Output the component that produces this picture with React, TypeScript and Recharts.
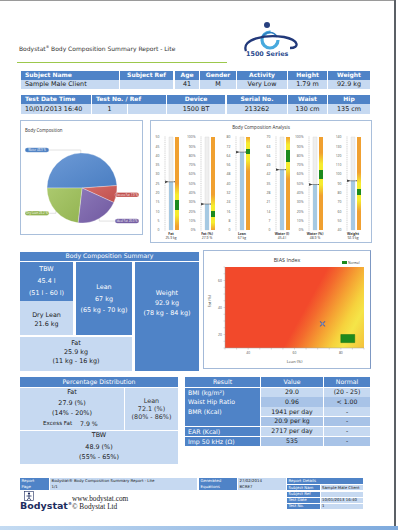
import React from 'react';
import {
  PieChart, Pie, Cell, BarChart, Bar, XAxis, YAxis, ScatterChart, Scatter, ReferenceArea,
} from 'recharts';

// ---- header tables ----
const subjectHeaders = ['Subject Name', 'Subject Ref', 'Age', 'Gender', 'Activity', 'Height', 'Weight'];
const subjectValues = ['Sample Male Client', '', '41', 'M', 'Very Low', '1.79 m', '92.9 kg'];
const testHeaders = ['Test Date Time', 'Test No. / Ref', 'Device', 'Serial No.', 'Waist', 'Hip'];
const testValues = ['10/01/2013 16:40', '1', '', '1500 BT', '213262', '130 cm', '135 cm'];

// ---- pie ----
const pieNames = ['Water', 'Excess Fat', 'Ideal Fat', 'Dry Lean'];
const pieValues = [48.9, 7.9, 20.0, 23.2];

// ---- gauges ----
const gaugeNames = ['Fat', 'Fat  (%)', 'Lean', 'Water  (l)', 'Water  (%)', 'Weight'];
const gaugeValues = [25.9, 27.9, 67, 45.4, 48.9, 92.9];
const gaugeUnits = ['kg', '%', 'kg', 'l', '%', 'kg'];
const gaugeMin = [0, 0, 0, 0, 0, 40];
const gaugeMax = [50, 100, 80, 70, 100, 140];
const gaugeStep = [5, 10, 8, 7, 10, 10];
const gaugeNormalLow = [11, 14, 65, 51, 55, 78];
const gaugeNormalHigh = [16, 20, 70, 60, 65, 84];
const gaugePercent = [false, true, false, false, true, false];

// ---- BIAS index ----
const biasLean = [72.1];
const biasFat = [27.9];
const normalLean = [80, 86];
const normalFat = [14, 20];
const biasXTicks = [30, 35, 40, 45, 50, 55, 60, 65, 70, 75, 80, 85, 90];
const biasYTicks = [10, 15, 20, 25, 30, 35, 40, 45, 50, 55, 60, 65, 70];
const biasXLabels = [40, 60, 80];
const biasYLabels = [20, 40, 60];

// ---- results ----
const resultLabels = ['BMI (kg/m\u00b2)', 'Waist Hip Ratio', 'BMR (Kcal)', '', 'EAR (Kcal)', 'Imp 50 kHz (\u03a9)'];
const resultValues = ['29.0', '0.96', '1941 per day', '20.9 per kg', '2717 per day', '535'];
const resultNormals = ['(20 - 25)', '< 1.00', '-', '-', '-', '-'];

const BLUE = '#4f83c7';
const LIGHT = '#c6d9f1';
const MID = '#a8c3e7';
const FONT = '"DejaVu Sans", Verdana, sans-serif';
const CFONT = '"Open Sans", "Liberation Sans", sans-serif';
const pieColors = ['#4a7ec2', '#c0504d', '#7059a0', '#93b452'];
const pieLight = ['#6d9ad6', '#d46c68', '#8c78b8', '#abc96e'];

type BoxProps = {
  x: number; y: number; w: number; h: number; bg?: string; color?: string; bold?: boolean;
  align?: 'left' | 'center'; fs?: number; pad?: number; children?: React.ReactNode;
};
function Box({ x, y, w, h, bg, color = '#1a1a1a', bold = false, align = 'center', fs = 6.4, pad = 4, children }: BoxProps) {
  return (
    <div style={{
      position: 'absolute', left: x, top: y, width: w, height: h, background: bg, color,
      fontFamily: FONT, fontSize: fs, fontWeight: bold ? 700 : 400, display: 'flex', alignItems: 'center',
      justifyContent: align === 'left' ? 'flex-start' : 'center', paddingLeft: align === 'left' ? pad : 0,
      boxSizing: 'border-box', whiteSpace: 'nowrap', overflow: 'hidden', lineHeight: 1,
    }}>{children}</div>
  );
}

function Stack({ x, y, w, h, bg, color, lines, fs = 6.4 }: {
  x: number; y: number; w: number; h: number; bg: string; color: string; lines: [string, number][]; fs?: number;
}) {
  return (
    <div style={{ position: 'absolute', left: x, top: y, width: w, height: h, background: bg }}>
      {lines.map(([t, cy], i) => (
        <div key={i} style={{
          position: 'absolute', left: 0, width: w, top: cy - y - fs * 0.6, textAlign: 'center', fontSize: fs,
          lineHeight: `${fs * 1.2}px`, color, fontFamily: FONT, whiteSpace: 'nowrap',
        }}>{t}</div>
      ))}
    </div>
  );
}

const renderPieLabel = (p: any) => {
  const { cx, cy, midAngle, outerRadius, index } = p;
  const rad = (midAngle * Math.PI) / 180;
  const ax = cx + outerRadius * Math.cos(rad);
  const ay = cy - outerRadius * Math.sin(rad);
  const ly = cy - (outerRadius + 3) * Math.sin(rad);
  const right = Math.cos(rad) >= 0;
  const pw = 24, ph = 4.6;
  const px = right ? cx + outerRadius - 2 : cx - outerRadius + 2 - pw;
  const edge = right ? px : px + pw;
  return (
    <g>
      <polyline points={`${edge},${ly} ${ax},${ly} ${ax},${ay}`} fill="none" stroke="#b5b5b5" strokeWidth={0.4} />
      <rect x={px} y={ly - ph / 2} width={pw} height={ph} rx={2.3} fill={pieColors[index]} stroke="#fff" strokeWidth={0.3} />
      <text x={px + pw / 2} y={ly + 1} textAnchor="middle" fontSize={2.9} fill="#fff" fontFamily={CFONT}>
        {`${pieNames[index]} ${pieValues[index].toFixed(1)} %`}
      </text>
    </g>
  );
};

function bandStops(i: number): [number, string][] {
  const min = gaugeMin[i], max = gaugeMax[i], lo = gaugeNormalLow[i], hi = gaugeNormalHigh[i];
  const d = (max - min) * 0.1;
  const off = (v: number) => Math.min(1, Math.max(0, (max - v) / (max - min)));
  const OR = '#f0a030', YE = '#f6ec2e', GR = '#1d8a1d';
  return [
    [0, OR], [off(hi + d * 1.8), OR], [off(hi + d * 0.6), YE], [off(hi), YE], [off(hi), GR],
    [off(lo), GR], [off(lo), YE], [off(lo - d * 0.6), YE], [off(lo - d * 1.8), OR], [1, OR],
  ];
}

const ValueBar = (p: any) => {
  const { x, y, width, height } = p;
  return (
    <g>
      <rect x={x} y={y} width={width} height={height} fill="#a6c9e2" />
      <line x1={x - 4} x2={x + width + 4} y1={y} y2={y} stroke="#3a3a3a" strokeWidth={0.5} />
      <path d={`M${x - 4},${y - 1.4} L${x - 0.8},${y} L${x - 4},${y + 1.4}Z`} fill="#3a3a3a" />
      <path d={`M${x + width + 4},${y - 1.4} L${x + width + 0.8},${y} L${x + width + 4},${y + 1.4}Z`} fill="#3a3a3a" />
    </g>
  );
};

const gaugeTrackX = [169, 204.5, 239.5, 279.5, 312.5, 351];

function Gauge({ i }: { i: number }) {
  const min = gaugeMin[i], max = gaugeMax[i], step = gaugeStep[i];
  const minor = step / 5;
  const ticks: number[] = [];
  for (let k = 0; k <= Math.round((max - min) / minor); k++) ticks.push(+(min + k * minor).toFixed(4));
  const data = [{ name: gaugeNames[i], value: gaugeValues[i], band: max }];
  return (
    <div style={{ position: 'absolute', left: gaugeTrackX[i] - 20, top: 134 }}>
      <BarChart width={36} height={108} data={data} margin={{ top: 3, right: 0, bottom: 0, left: 0 }} barSize={4} barGap={2}>
        <defs>
          <linearGradient id={`band${i}`} x1="0" y1="0" x2="0" y2="1">
            {bandStops(i).map(([o, c], k) => <stop key={k} offset={o} stopColor={c} />)}
          </linearGradient>
        </defs>
        <YAxis
          type="number" domain={[min, max]} ticks={ticks} interval={0} width={14} axisLine={false}
          tickLine={false} tickSize={0} tickMargin={0} allowDataOverflow
          tick={(p: any) => {
            const v = p.payload.value;
            const major = Math.abs(v / step - Math.round(v / step)) < 1e-6;
            return (
              <g>
                <line x1={p.x + 1} x2={p.x + 3} y1={p.y} y2={p.y} stroke="#b8b8b8" strokeWidth={0.35} />
                {major ? (
                  <text x={p.x - 3.5} y={p.y + 1.2} textAnchor="end" fontSize={3.4} fill="#555" fontFamily={CFONT}>
                    {gaugePercent[i] ? `${v}%` : v}
                  </text>
                ) : null}
              </g>
            );
          }}
        />
        <XAxis
          dataKey="name" height={12} axisLine={false} tickLine={false} tickSize={0} tickMargin={0} interval={0}
          tick={(p: any) => (
            <g>
              <text x={p.x - 3} y={p.y + 4.6} textAnchor="middle" fontSize={3.4} fontWeight={700} fill="#333" fontFamily={CFONT}>
                {gaugeNames[i]}
              </text>
              <text x={p.x - 3} y={p.y + 8.8} textAnchor="middle" fontSize={3.4} fill="#333" fontFamily={CFONT}>
                {`${gaugeValues[i]} ${gaugeUnits[i]}`}
              </text>
            </g>
          )}
        />
        <Bar dataKey="value" background={{ fill: '#efefef', stroke: '#d6d6d6', strokeWidth: 0.4 }} shape={ValueBar} isAnimationActive={false} />
        <Bar dataKey="band" fill={`url(#band${i})`} isAnimationActive={false} />
      </BarChart>
    </div>
  );
}

const BiasMarker = (p: any) => {
  const { cx, cy } = p;
  return (
    <g stroke="#55679f" strokeWidth={1.1} strokeLinecap="round">
      <line x1={cx - 2.2} y1={cy - 2.2} x2={cx + 2.2} y2={cy + 2.2} />
      <line x1={cx - 2.2} y1={cy + 2.2} x2={cx + 2.2} y2={cy - 2.2} />
      <rect x={cx - 1} y={cy - 1} width={2} height={2} fill="#7f8fc0" stroke="none" />
    </g>
  );
};

export default function App() {
  const pieData = pieNames.map((n, i) => ({ name: n, value: pieValues[i] }));
  const biasData = biasLean.map((l, i) => ({ lean: l, fat: biasFat[i] }));
  const subjectCols: [number, number][] = [[21, 98], [120, 53], [175, 24], [200, 36], [237, 50], [288, 39], [328, 42]];
  const testHeadCols: [number, number][] = [[21, 70], [92, 74], [167, 58], [227, 60], [288, 39], [328, 42]];
  const testValCols: [number, number][] = [[21, 70], [92, 35], [128, 38], [167, 58], [227, 60], [288, 39], [328, 42]];
  const rowY = (k: number) => 387.5 + k * 9.8;

  return (
    <div style={{ position: 'absolute', left: 0, top: 0, width: 398, height: 530, background: '#fff', overflow: 'hidden' }}>
      {/* frame */}
      <div style={{ position: 'absolute', left: 0, top: 0, width: 396, height: 1, background: '#9a9a9a' }} />
      <div style={{ position: 'absolute', left: 394, top: 0, width: 2, height: 526, background: '#5b6066' }} />
      <div style={{ position: 'absolute', left: 0, top: 526, width: 398, height: 4, background: 'linear-gradient(to right, #c4dbf2, #7eaadd)' }} />

      {/* title */}
      <div style={{ position: 'absolute', left: 19, top: 44.5, fontFamily: FONT, fontSize: 6, color: '#333', whiteSpace: 'nowrap' }}>
        Bodystat<sup style={{ fontSize: 3.5 }}>®</sup> Body Composition Summary Report - Lite
      </div>
      <div style={{ position: 'absolute', left: 17, top: 61.5, width: 210, height: 1.2, background: '#9cc84c' }} />

      {/* logo */}
      <svg style={{ position: 'absolute', left: 240, top: 15 }} width={62} height={45}>
        <circle cx={30} cy={25} r={8} fill="none" stroke="#47a9dd" strokeWidth={3.2} strokeDasharray="38 12" />
        <circle cx={27} cy={10} r={3} fill="#27407f" />
        <path d="M22,22 C26,16 34,16 37,22" fill="none" stroke="#2f7fc1" strokeWidth={1.6} />
        <path d="M6,36 C1,24 26,19 44,22 C59,25 60,33 50,33" fill="none" stroke="#22397a" strokeWidth={2.3} />
        <text x={6} y={41} fontFamily={FONT} fontWeight={700} fontSize={6.4} fill="#2a4a8e">1500 Series</text>
      </svg>

      {/* subject table */}
      {subjectHeaders.map((h, i) => (
        <Box key={`sh${i}`} x={subjectCols[i][0]} y={71} w={subjectCols[i][1]} h={8.5} bg={BLUE} color="#fff" bold fs={6}
          align={i === 0 ? 'left' : 'center'}>{h}</Box>
      ))}
      {subjectValues.map((v, i) => (
        <Box key={`sv${i}`} x={subjectCols[i][0]} y={80} w={subjectCols[i][1]} h={9} bg={LIGHT} align={i === 0 ? 'left' : 'center'}>{v}</Box>
      ))}
      {testHeaders.map((h, i) => (
        <Box key={`th${i}`} x={testHeadCols[i][0]} y={95} w={testHeadCols[i][1]} h={8.5} bg={BLUE} color="#fff" bold fs={6}
          align={i < 2 ? 'left' : 'center'}>{h}</Box>
      ))}
      {testValues.map((v, i) => (
        <Box key={`tv${i}`} x={testValCols[i][0]} y={104} w={testValCols[i][1]} h={9.5} bg={LIGHT} align={i === 0 ? 'left' : 'center'}>{v}</Box>
      ))}

      {/* body composition pie */}
      <div style={{ position: 'absolute', left: 20, top: 120, width: 123, height: 115, border: '1px solid #a9bfdb', boxSizing: 'border-box' }} />
      <div style={{ position: 'absolute', left: 25, top: 127, fontFamily: CFONT, fontSize: 4.4, color: '#333' }}>Body Composition</div>
      <div style={{ position: 'absolute', left: 20, top: 120 }}>
        <PieChart width={123} height={115} margin={{ top: 0, right: 0, bottom: 0, left: 0 }}>
          <defs>
            {pieColors.map((c, i) => (
              <linearGradient key={i} id={`pg${i}`} x1="0" y1="0" x2="1" y2="1">
                <stop offset="0" stopColor={pieLight[i]} />
                <stop offset="1" stopColor={c} />
              </linearGradient>
            ))}
          </defs>
          <Pie data={pieData} dataKey="value" nameKey="name" cx={62} cy={68} outerRadius={35} startAngle={180} endAngle={-180}
            stroke="#ffffff" strokeWidth={0.3} label={renderPieLabel} labelLine={false} isAnimationActive={false}>
            {pieData.map((_, i) => <Cell key={i} fill={`url(#pg${i})`} />)}
          </Pie>
        </PieChart>
      </div>

      {/* body composition analysis gauges */}
      <div style={{ position: 'absolute', left: 150, top: 120, width: 222, height: 123, border: '1px solid #a9bfdb', boxSizing: 'border-box' }} />
      <div style={{ position: 'absolute', left: 150, top: 124, width: 222, textAlign: 'center', fontFamily: CFONT, fontSize: 4.6, color: '#333' }}>
        Body Composition Analysis
      </div>
      {gaugeNames.map((_, i) => <Gauge key={i} i={i} />)}

      {/* body composition summary */}
      <Box x={20} y={252} w={179} h={8.5} bg={BLUE} color="#fff" fs={6.2}>Body Composition Summary</Box>
      <Stack x={20} y={262} w={53} h={39} bg={BLUE} color="#fff" lines={[['TBW', 270], ['45.4 l', 282], ['(51 l - 60 l)', 294]]} />
      <Stack x={20} y={301} w={53} h={34} bg={LIGHT} color="#1a1a1a" lines={[['Dry Lean', 316], ['21.6 kg', 325]]} />
      <Stack x={76} y={262} w={56} h={73} bg={BLUE} color="#fff" lines={[['Lean', 288], ['67 kg', 300], ['(65 kg - 70 kg)', 311]]} />
      <Stack x={135} y={262} w={64} h={109} bg={BLUE} color="#fff" lines={[['Weight', 294], ['92.9 kg', 304], ['(78 kg - 84 kg)', 314]]} />
      <Stack x={20} y={337} w={112} h={34} bg={LIGHT} color="#1a1a1a" lines={[['Fat', 344], ['25.9 kg', 353], ['(11 kg - 16 kg)', 362]]} />

      {/* BIAS index */}
      <div style={{ position: 'absolute', left: 203, top: 250, width: 168, height: 119, border: '1px solid #a3b9d8', borderRightColor: '#7d98c3', boxSizing: 'border-box' }} />
      <div style={{ position: 'absolute', left: 203, top: 256, width: 168, textAlign: 'center', fontFamily: CFONT, fontSize: 5.4, color: '#333' }}>BIAS Index</div>
      <div style={{ position: 'absolute', left: 342, top: 260.5, width: 4.5, height: 3.5, background: '#1d8a1d' }} />
      <div style={{ position: 'absolute', left: 348, top: 260, fontFamily: CFONT, fontSize: 3.3, color: '#333' }}>Normal</div>
      <div style={{ position: 'absolute', left: 203, top: 250 }}>
        <ScatterChart width={168} height={119} margin={{ top: 17, right: 7, bottom: 0, left: 0 }}>
          <defs>
            <linearGradient id="heat" x1="0" y1="0" x2="1.198" y2="0.388">
              <stop offset="0" stopColor="#f2492b" />
              <stop offset="0.56" stopColor="#f2492b" />
              <stop offset="0.63" stopColor="#f36a2d" />
              <stop offset="0.73" stopColor="#f5a233" />
              <stop offset="0.82" stopColor="#f6d23d" />
              <stop offset="0.88" stopColor="#f5e548" />
              <stop offset="1" stopColor="#f4c13b" />
            </linearGradient>
          </defs>
          <XAxis type="number" dataKey="lean" domain={[30, 90]} ticks={biasXTicks} interval={0} height={21}
            axisLine={{ stroke: '#a0a0a0', strokeWidth: 0.5 }} tickLine={{ stroke: '#a0a0a0', strokeWidth: 0.4 }} tickSize={1.5} tickMargin={1}
            tick={(p: any) => biasXLabels.includes(p.payload.value)
              ? <text x={p.x} y={p.y + 3} textAnchor="middle" fontSize={3.4} fill="#555" fontFamily={CFONT}>{p.payload.value}</text>
              : <g />}
            label={{ value: 'Lean (%)', position: 'insideBottom', offset: 6, fontSize: 4, fill: '#444', fontFamily: CFONT }}
          />
          <YAxis type="number" dataKey="fat" domain={[10, 70]} ticks={biasYTicks} interval={0} width={22}
            axisLine={{ stroke: '#a0a0a0', strokeWidth: 0.5 }} tickLine={{ stroke: '#a0a0a0', strokeWidth: 0.4 }} tickSize={1.5} tickMargin={1.5}
            tick={(p: any) => biasYLabels.includes(p.payload.value)
              ? <text x={p.x} y={p.y + 1.2} textAnchor="end" fontSize={3.4} fill="#555" fontFamily={CFONT}>{p.payload.value}</text>
              : <g />}
            label={{ value: 'Fat (%)', angle: -90, position: 'insideLeft', offset: 7, fontSize: 4, fill: '#444', fontFamily: CFONT }}
          />
          <ReferenceArea x1={30} x2={90} y1={10} y2={70} fill="url(#heat)" fillOpacity={1} stroke="none" />
          <ReferenceArea x1={normalLean[0]} x2={normalLean[1]} y1={normalFat[0]} y2={normalFat[1]} fill="#1d8a1d" fillOpacity={1} stroke="#147014" strokeWidth={0.5} />
          <Scatter data={biasData} shape={BiasMarker} isAnimationActive={false} />
        </ScatterChart>
      </div>

      {/* percentage distribution */}
      <Box x={20} y={377} w={158} h={10} bg={BLUE} color="#fff" fs={6.2}>Percentage Distribution</Box>
      <Stack x={20} y={388} w={104} h={42} bg={LIGHT} color="#1a1a1a" lines={[['Fat', 393], ['27.9 (%)', 404], ['(14% - 20%)', 414]]} />
      <div style={{ position: 'absolute', left: 43, top: 420, fontFamily: FONT, fontSize: 5.6, color: '#1a1a1a', whiteSpace: 'nowrap' }}>Excess Fat</div>
      <div style={{ position: 'absolute', left: 80, top: 419.5, fontFamily: FONT, fontSize: 6.2, color: '#1a1a1a', whiteSpace: 'nowrap' }}>7.9 %</div>
      <Stack x={125} y={388} w={53} h={42} bg={LIGHT} color="#333" lines={[['Lean', 401.5], ['72.1 (%)', 409.5], ['(80% - 86%)', 418]]} />
      <Stack x={20} y={431} w={158} h={33} bg={LIGHT} color="#1a1a1a" lines={[['TBW', 436], ['48.9 (%)', 448], ['(55% - 65%)', 458]]} />

      {/* results table */}
      <Box x={185} y={377} w={75} h={10} bg={BLUE} color="#fff" fs={6.2}>Result</Box>
      <Box x={261} y={377} w={62} h={10} bg={BLUE} color="#fff" fs={6.2}>Value</Box>
      <Box x={324} y={377} w={46} h={10} bg={BLUE} color="#fff" fs={6.2}>Normal</Box>
      {resultLabels.map((l, k) => (k === 3 ? null : (
        <div key={`rl${k}`} style={{
          position: 'absolute', left: 185, top: rowY(k), width: 75, height: k === 2 ? 19.1 : 9.3, background: BLUE,
          color: '#fff', fontFamily: FONT, fontSize: 6.2, lineHeight: '9.3px', paddingLeft: 3, boxSizing: 'border-box', whiteSpace: 'nowrap',
        }}>{l}</div>
      )))}
      {resultValues.map((v, k) => (
        <Box key={`rv${k}`} x={261} y={rowY(k)} w={62} h={9.3} bg={k % 2 ? MID : LIGHT} fs={6.2}>{v}</Box>
      ))}
      {resultNormals.map((v, k) => (
        <Box key={`rn${k}`} x={324} y={rowY(k)} w={46} h={9.3} bg={k % 2 ? MID : LIGHT} fs={6.2}>{v}</Box>
      ))}

      {/* footer */}
      <Box x={20} y={478} w={29} h={5.6} bg={BLUE} color="#fff" fs={3.9} align="left" pad={1.5}>Report</Box>
      <Box x={49.5} y={478} w={147.5} h={5.6} bg={LIGHT} fs={3.9} align="left" pad={2}>Bodystat® Body Composition Summary Report - Lite</Box>
      <Box x={199} y={478} w={38} h={5.6} bg={BLUE} color="#fff" fs={3.9} align="left" pad={1.5}>Generated</Box>
      <Box x={237.5} y={478} w={48} h={5.6} bg={LIGHT} fs={3.9} align="left" pad={2}>27/02/2014</Box>
      <Box x={20} y={484.3} w={29} h={5.6} bg={BLUE} color="#fff" fs={3.9} align="left" pad={1.5}>Page</Box>
      <Box x={49.5} y={484.3} w={147.5} h={5.6} bg={LIGHT} fs={3.9} align="left" pad={2}>1/1</Box>
      <Box x={199} y={484.3} w={38} h={5.6} bg={BLUE} color="#fff" fs={3.9} align="left" pad={1.5}>Equations</Box>
      <Box x={237.5} y={484.3} w={48} h={5.6} bg={LIGHT} fs={3.9} align="left" pad={2}>BCRE7</Box>

      <Box x={287} y={478} w={76} h={5.6} bg={BLUE} color="#fff" fs={3.9} align="left" pad={1.5}>Report Details</Box>
      {[['Subject Nam', 'Sample Male Client', 485], ['Subject Ref', '', 491.5], ['Test Date', '10/01/2013 16:40', 497.5], ['Test No.', '1', 503.5]].map(([a, b, y]) => (
        <React.Fragment key={a as string}>
          <Box x={287} y={y as number} w={33} h={5.4} bg={BLUE} color="#fff" fs={3.9} align="left" pad={1.5}>{a}</Box>
          <Box x={320.5} y={y as number} w={42.5} h={5.4} bg={LIGHT} fs={3.9} align="left" pad={1.5}>{b}</Box>
        </React.Fragment>
      ))}

      <svg style={{ position: 'absolute', left: 24, top: 491 }} width={10} height={10}>
        <rect x={0.5} y={0.5} width={9} height={9} fill="none" stroke="#1d2c5e" strokeWidth={0.6} />
        <circle cx={5} cy={2.6} r={1.1} fill="#1d2c5e" />
        <path d="M5,3.8 L5,6.6 M2.5,5 L7.5,5 M5,6.6 L3,9.3 M5,6.6 L7,9.3" stroke="#1d2c5e" strokeWidth={0.8} />
      </svg>
      <div style={{ position: 'absolute', left: 20, top: 501, fontFamily: FONT, fontWeight: 700, fontSize: 9.5, color: '#1d2c5e', lineHeight: 1, whiteSpace: 'nowrap' }}>
        Bodystat<sup style={{ fontSize: 4 }}>®</sup>
      </div>
      <div style={{ position: 'absolute', left: 72, top: 493.5, fontFamily: '"Liberation Serif", serif', fontSize: 7.3, color: '#222', whiteSpace: 'nowrap' }}>www.bodystat.com</div>
      <div style={{ position: 'absolute', left: 72, top: 501.5, fontFamily: '"Liberation Serif", serif', fontSize: 7.3, color: '#222', whiteSpace: 'nowrap' }}>© Bodystat Ltd</div>
    </div>
  );
}
